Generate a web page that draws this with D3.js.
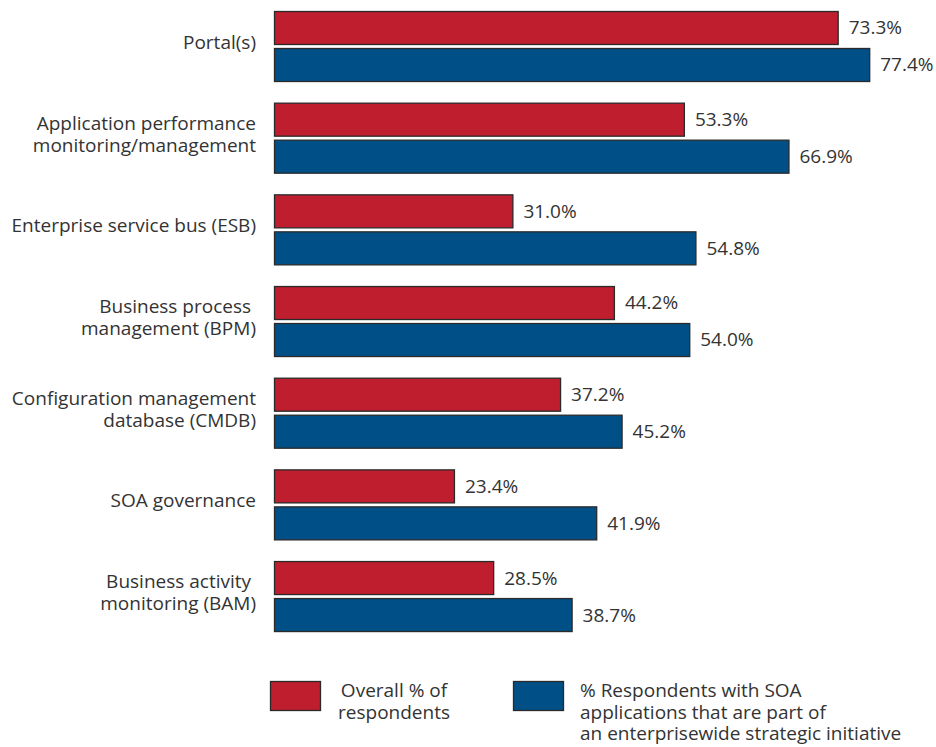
<!DOCTYPE html>
<html>
<head>
<meta charset="utf-8">
<script src="https://cdn.jsdelivr.net/npm/d3@7"></script>
<style>
  body { margin: 0; background: #fff; }
  svg text { font-family: "Open Sans", "Liberation Sans", sans-serif; fill: #333; }
</style>
</head>
<body>
<svg id="chart" width="936" height="747"></svg>
<script>
var categories = [
  'Portal(s)',
  'Application performance\nmonitoring/management',
  'Enterprise service bus (ESB)',
  'Business process \nmanagement (BPM)',
  'Configuration management\ndatabase (CMDB)',
  'SOA governance',
  'Business activity \nmonitoring (BAM)'
];
var overallValues = [73.3, 53.3, 31.0, 44.2, 37.2, 23.4, 28.5];
var soaValues = [77.4, 66.9, 54.8, 54.0, 45.2, 41.9, 38.7];
var seriesNames = ['Overall % of\nrespondents', '% Respondents with SOA\napplications that are part of\nan enterprisewide strategic initiative'];
var seriesColors = ['#be1e2d', '#004f87'];

var fontSize = 19;
var lineH = 22;

var svg = d3.select('#chart');

var x = d3.scaleLinear().domain([0, 100]).range([274, 1043]);
var y0 = d3.scaleBand().domain(categories).range([11, 631]).paddingInner(0.237).paddingOuter(0);
var y1 = d3.scaleBand().domain([0, 1]).range([0, y0.bandwidth()]).paddingInner(0.11);

var rows = categories.map(function(c, i) {
  return {cat: c, vals: [overallValues[i], soaValues[i]]};
});

// category labels via left axis
var axis = svg.append('g')
  .attr('transform', 'translate(256,-4)')
  .call(d3.axisLeft(y0).tickSize(0).tickPadding(0));
axis.select('.domain').remove();
axis.selectAll('.tick text').each(function(d) {
  var t = d3.select(this);
  var lines = d.split('\n');
  t.text(null)
    .attr('font-size', fontSize)
    .attr('fill', '#333')
    .attr('font-family', null)
    .attr('dy', null);
  lines.forEach(function(l, k) {
    t.append('tspan')
      .attr('x', 0)
      .attr('dy', k === 0 ? ((-(lines.length - 1) * lineH) / 2 + 7) : lineH)
      .text(l);
  });
});

var groups = svg.selectAll('g.grp')
  .data(rows)
  .enter().append('g')
  .attr('class', 'grp')
  .attr('transform', function(d) { return 'translate(0,' + y0(d.cat) + ')'; });

groups.selectAll('rect')
  .data(function(d) { return d.vals; })
  .enter().append('rect')
  .attr('x', x(0) + 0.5)
  .attr('y', function(v, i) { return Math.round(y1(i)) + 0.5; })
  .attr('width', function(v) { return x(v) - x(0); })
  .attr('height', Math.round(y1.bandwidth()))
  .attr('fill', function(v, i) { return seriesColors[i]; })
  .attr('stroke', '#2a2a2a')
  .attr('stroke-width', 1.3);

groups.selectAll('text.val')
  .data(function(d) { return d.vals; })
  .enter().append('text')
  .attr('class', 'val')
  .attr('x', function(v) { return x(v) + 11; })
  .attr('y', function(v, i) { return y1(i) + y1.bandwidth() / 2 + 7; })
  .attr('font-size', fontSize)
  .text(function(v) { return v.toFixed(1) + '%'; });

// legend
var legendX = [270, 513];
var legend = svg.selectAll('g.leg')
  .data(seriesNames)
  .enter().append('g')
  .attr('class', 'leg')
  .attr('transform', function(d, i) { return 'translate(' + legendX[i] + ',681)'; });

legend.append('rect')
  .attr('x', 0.5).attr('y', 0.5)
  .attr('width', 50).attr('height', 29)
  .attr('fill', function(d, i) { return seriesColors[i]; })
  .attr('stroke', '#2a2a2a')
  .attr('stroke-width', 1.3);

legend.append('text')
  .attr('font-size', fontSize)
  .attr('text-anchor', function(d, i) { return i === 0 ? 'middle' : 'start'; })
  .each(function(d, i) {
    var t = d3.select(this);
    d.split('\n').forEach(function(l, k) {
      t.append('tspan')
        .attr('x', i === 0 ? 124 : 67)
        .attr('y', 16 + k * 21.5)
        .text(l);
    });
  });
</script>
</body>
</html>
